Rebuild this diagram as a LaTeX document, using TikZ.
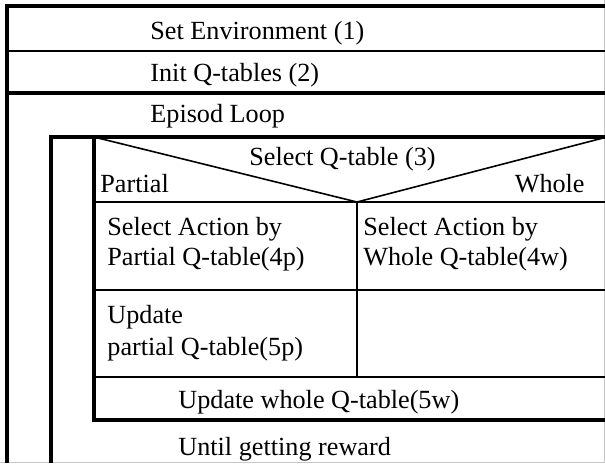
\documentclass[tikz,border=0pt]{standalone}
\usepackage{fontspec}
\setmainfont{Liberation Serif}

\begin{document}
\begin{tikzpicture}[x=0.5pt,y=-0.5pt,
    heavy/.style={line width=1.7pt},
    medium/.style={line width=1.1pt},
    light/.style={line width=0.8pt},
    lbl/.style={anchor=base west,inner sep=0pt,font=\fontsize{13.1}{15}\selectfont}]
  \useasboundingbox (0,0) rectangle (605,463);
  % faint edge of the scan
  \draw[gray!45,line width=0.5pt] (604.5,0) -- (604.5,462.5) -- (0,462.5);
  % outer blocks
  \draw[heavy] (605,6) -- (7,6) -- (7,463);
  \draw[medium] (7,51) -- (605,51);
  \draw[heavy] (7,93) -- (605,93);
  % loops
  \draw[heavy] (51,463) -- (51,137) -- (605,137);
  \draw[heavy] (94,137) -- (94,420) -- (605,420);
  % decision
  \draw[light] (94,137) -- (357,202) -- (605,137.5);
  \draw[light] (94,202) -- (605,202);
  \draw[light] (357,202) -- (357,377);
  \draw[light] (94,290) -- (605,290);
  \draw[light] (94,377) -- (605,377);

  \node[lbl] (env) at (150,39) {Set Environment (1)};
  \node[lbl] (init) at (150,81) {Init Q-tables (2)};
  \node[lbl] (episod) at (150,122) {Episod Loop};
  \node[lbl] (select) at (249,165) {Select Q-table (3)};
  \node[lbl] (partial) at (100,192) {Partial};
  \node[lbl,anchor=base east] (whole) at (585,192) {Whole};
  \node[lbl] (actp1) at (107,235) {Select Action by};
  \node[lbl] (actp2) at (107,265) {Partial Q-table(4p)};
  \node[lbl] (actw1) at (363,235) {Select Action by};
  \node[lbl] (actw2) at (363,265) {Whole Q-table(4w)};
  \node[lbl] (updp1) at (107,323) {Update};
  \node[lbl] (updp2) at (107,355) {partial Q-table(5p)};
  \node[lbl] (updw) at (178,408) {Update whole Q-table(5w)};
  \node[lbl] (until) at (178,455) {Until getting reward};
\end{tikzpicture}
\end{document}
